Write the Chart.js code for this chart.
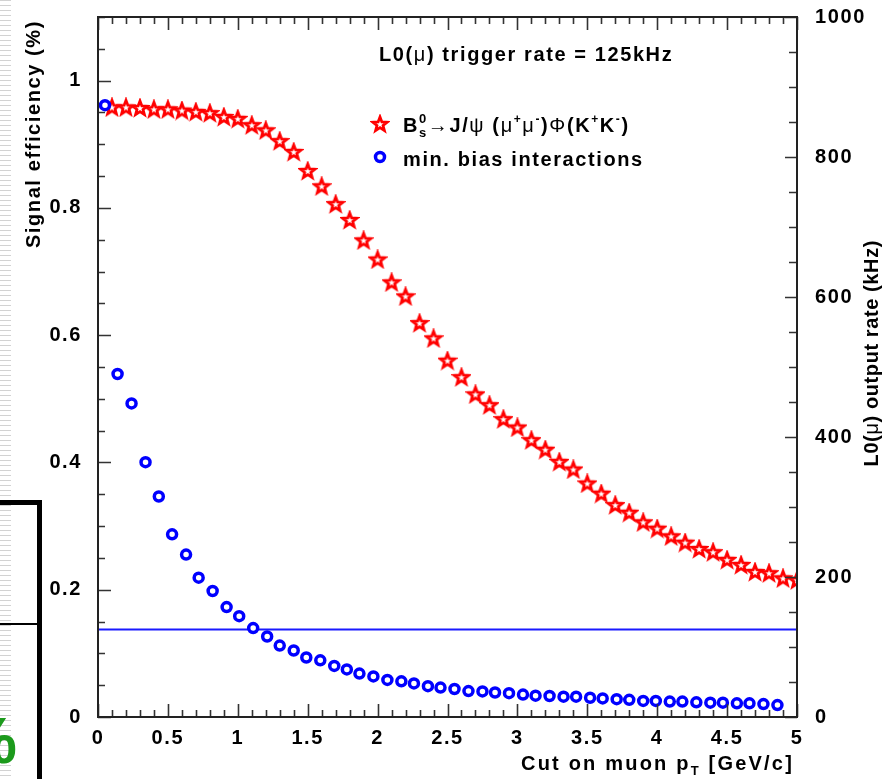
<!DOCTYPE html>
<html>
<head>
<meta charset="utf-8">
<script src="https://cdn.jsdelivr.net/npm/chart.js@4.4.0/dist/chart.umd.min.js"></script>
<style>
  body { margin: 0; background: #fff; }
  #wrap { position: relative; width: 893px; height: 779px; overflow: hidden; background: #fff; }
  #chart { position: absolute; left: 0; top: 0; }
  .stripes { position: absolute; left: 0; top: 0; width: 11px; height: 779px;
    background: repeating-linear-gradient(to bottom, #d2d2d2 0px, #d2d2d2 1px, #fff 1px, #fff 5px); }
  .blk { position: absolute; background: #000; }
  .pct { position: absolute; left: -40px; top: 704px; color: #1c9a1c;
    font: bold 64px 'Liberation Sans', Arial, sans-serif; }
</style>
</head>
<body>
<div id="wrap">
  <div class="stripes"></div>
  <div class="blk" style="left:0;top:500px;width:42px;height:5px"></div>
  <div class="blk" style="left:37px;top:500px;width:5px;height:279px"></div>
  <div class="blk" style="left:0;top:623px;width:37px;height:2px"></div>
  <div class="pct">%</div>
  <canvas id="chart" width="893" height="779"></canvas>
</div>
<script>
// signal: Bs -> J/psi phi efficiency vs pT cut (left axis)
const starX = [0.1, 0.2, 0.3, 0.4, 0.5, 0.6, 0.7, 0.8, 0.9, 1.0,
  1.1, 1.2, 1.3, 1.4, 1.5, 1.6, 1.7, 1.8, 1.9, 2.0,
  2.1, 2.2, 2.3, 2.4, 2.5, 2.6, 2.7, 2.8, 2.9, 3.0,
  3.1, 3.2, 3.3, 3.4, 3.5, 3.6, 3.7, 3.8, 3.9, 4.0,
  4.1, 4.2, 4.3, 4.4, 4.5, 4.6, 4.7, 4.8, 4.9, 5.0];
const starEff = [0.958, 0.958, 0.957, 0.955, 0.955, 0.953, 0.951, 0.949, 0.943, 0.940,
  0.930, 0.922, 0.905, 0.888, 0.858, 0.834, 0.806, 0.781, 0.749, 0.719,
  0.683, 0.661, 0.619, 0.595, 0.560, 0.534, 0.507, 0.490, 0.468, 0.455,
  0.435, 0.420, 0.401, 0.389, 0.367, 0.351, 0.333, 0.321, 0.306, 0.296,
  0.284, 0.274, 0.264, 0.259, 0.247, 0.239, 0.228, 0.226, 0.218, 0.215];

// min. bias output rate in kHz (right axis)
const circleX = [0.05, 0.14, 0.24, 0.34, 0.435, 0.53, 0.63, 0.72, 0.82, 0.92,
  1.01, 1.11, 1.21, 1.30, 1.40, 1.49, 1.59, 1.69, 1.78, 1.87,
  1.97, 2.07, 2.17, 2.26, 2.36, 2.45, 2.55, 2.65, 2.75, 2.84,
  2.94, 3.04, 3.13, 3.23, 3.33, 3.42, 3.52, 3.61, 3.71, 3.80,
  3.90, 3.99, 4.09, 4.18, 4.28, 4.38, 4.47, 4.57, 4.66, 4.76, 4.86];
const circleRate = [874, 490, 448, 364, 315, 261, 232, 199, 180, 157,
  144, 127, 115, 102, 95, 85, 81, 73, 68, 62,
  58, 53, 51, 48, 44, 42, 40, 37, 36.5, 35,
  34, 32, 30.5, 30, 29, 29, 27.5, 26.5, 25.5, 24.5,
  23, 23, 22, 22, 21, 20.5, 20.5, 19.5, 19.5, 18.5, 17];

const triggerRate = 125;
const xTicks = [0, 0.5, 1, 1.5, 2, 2.5, 3, 3.5, 4, 4.5, 5];
const effTicks = [0, 0.2, 0.4, 0.6, 0.8, 1];
const rateTicks = [0, 200, 400, 600, 800, 1000];

const FONT = "'Liberation Sans', Arial, Helvetica, sans-serif";
const SPACING = "1.6px";
const bold = s => "bold " + s + "px " + FONT;
const reg = s => s + "px " + FONT;

// open red star marker
function makeStar() {
  const c = document.createElement("canvas");
  c.width = 20; c.height = 20;
  const g = c.getContext("2d");
  g.beginPath();
  for (let i = 0; i < 10; i++) {
    const r = i % 2 === 0 ? 7.5 : 3.2;
    const a = -Math.PI / 2 + i * Math.PI / 5;
    const px = 10 + r * Math.cos(a), py = 10.5 + r * Math.sin(a);
    if (i === 0) g.moveTo(px, py); else g.lineTo(px, py);
  }
  g.closePath();
  g.fillStyle = "#fff";
  g.fill();
  g.lineWidth = 2.8;
  g.lineJoin = "miter";
  g.strokeStyle = "#ff0000";
  g.stroke();
  return c;
}
const starImg = makeStar();

// draw text made of runs: [text, font, dy, advance?]
function drawRuns(ctx, runs, x, y) {
  let cx = x;
  runs.forEach(r => {
    ctx.font = r[1];
    ctx.fillText(r[0], cx, y + (r[2] || 0));
    if (r[3] !== false) cx += ctx.measureText(r[0]).width;
  });
  return cx - x;
}
function runsWidth(ctx, runs) {
  let w = 0;
  runs.forEach(r => { ctx.font = r[1]; if (r[3] !== false) w += ctx.measureText(r[0]).width; });
  return w;
}

const framePlugin = {
  id: "frame",
  beforeDraw(chart) {
    chart.ctx.letterSpacing = SPACING;
  },
  afterDatasetsDraw(chart) {
    const ctx = chart.ctx;
    const a = chart.chartArea;
    const xs = chart.scales.x, yl = chart.scales.yL, yr = chart.scales.yR;
    ctx.save();
    ctx.strokeStyle = "#333";
    ctx.lineWidth = 1.6;
    ctx.beginPath();
    for (let i = 0; i <= 50; i++) {
      const px = Math.round(xs.getPixelForValue(i / 10)) + 0.5;
      const len = i % 5 === 0 ? 13 : 7;
      ctx.moveTo(px, a.bottom); ctx.lineTo(px, a.bottom - len);
      ctx.moveTo(px, a.top); ctx.lineTo(px, a.top + len);
    }
    for (let i = 0; i <= 22; i++) {
      const py = Math.round(yl.getPixelForValue(i * 0.05)) + 0.5;
      const len = i % 4 === 0 ? 13 : 7;
      ctx.moveTo(a.left, py); ctx.lineTo(a.left + len, py);
    }
    for (let i = 0; i <= 20; i++) {
      const py = Math.round(yr.getPixelForValue(i * 50)) + 0.5;
      const len = i % 4 === 0 ? 12 : 8;
      ctx.moveTo(a.right, py); ctx.lineTo(a.right - len, py);
    }
    ctx.stroke();
    ctx.lineWidth = 2;
    ctx.strokeStyle = "#222";
    ctx.strokeRect(a.left, a.top, a.right - a.left, a.bottom - a.top);
    ctx.restore();
  },
  afterDraw(chart) {
    const ctx = chart.ctx;
    ctx.save();
    ctx.letterSpacing = SPACING;
    ctx.fillStyle = "#000";
    ctx.textBaseline = "alphabetic";
    ctx.textAlign = "left";

    // header
    drawRuns(ctx, [["L0(", bold(20)], ["\u03bc", reg(20)], [") trigger rate = 125kHz", bold(20)]], 379, 61);

    // legend markers
    ctx.drawImage(starImg, 370, 114);
    ctx.beginPath();
    ctx.arc(380, 157, 4.5, 0, Math.PI * 2);
    ctx.fillStyle = "#fff";
    ctx.fill();
    ctx.lineWidth = 3.5;
    ctx.strokeStyle = "#0000ff";
    ctx.stroke();

    // legend text
    ctx.fillStyle = "#000";
    drawRuns(ctx, [
      ["B", bold(20)],
      ["0", bold(13), -9, false],
      ["s", bold(13), 5],
      ["\u2192", reg(20)],
      ["J/", bold(20)],
      ["\u03c8", reg(20)],
      [" (", bold(20)],
      ["\u03bc", reg(20)],
      ["+", bold(12), -9],
      ["\u03bc", reg(20)],
      ["-", bold(12), -9],
      [")", bold(20)],
      ["\u03a6", reg(20)],
      ["(K", bold(20)],
      ["+", bold(12), -9],
      ["K", bold(20)],
      ["-", bold(12), -9],
      [")", bold(20)]
    ], 403, 132);
    drawRuns(ctx, [["min. bias interactions", bold(20)]], 403, 166);

    // x title, right aligned
    ctx.letterSpacing = "2.2px";
    const xt = [["Cut on muon p", bold(20)], ["T", bold(13), 5], [" [GeV/c]", bold(20)]];
    drawRuns(ctx, xt, 794 - runsWidth(ctx, xt), 770);

    // left title
    ctx.letterSpacing = SPACING;
    ctx.save();
    ctx.translate(40, 20);
    ctx.rotate(-Math.PI / 2);
    const lt = [["Signal efficiency (%)", bold(20)]];
    drawRuns(ctx, lt, -runsWidth(ctx, lt), 0);
    ctx.restore();

    // right title
    ctx.letterSpacing = "0.6px";
    ctx.save();
    ctx.translate(878, 240);
    ctx.rotate(-Math.PI / 2);
    const rt = [["L0(", bold(20)], ["\u03bc", reg(20)], [") output rate (kHz)", bold(20)]];
    drawRuns(ctx, rt, -runsWidth(ctx, rt), 0);
    ctx.restore();

    ctx.restore();
  }
};

const tickFont = { family: FONT, size: 20, weight: "bold" };
const plain = v => String(v);
const noPad = s => { s.paddingTop = 0; s.paddingBottom = 0; };

new Chart(document.getElementById("chart"), {
  type: "scatter",
  data: {
    datasets: [
      {
        label: "min. bias interactions",
        data: circleX.map((x, i) => ({ x: x, y: circleRate[i] })),
        yAxisID: "yR",
        pointStyle: "circle",
        pointRadius: 4.5,
        pointBorderWidth: 3.5,
        pointBorderColor: "#0000ff",
        pointBackgroundColor: "#ffffff"
      },
      {
        label: "Bs -> J/psi phi",
        data: starX.map((x, i) => ({ x: x, y: starEff[i] })),
        yAxisID: "yL",
        pointStyle: starImg,
        clip: 0
      },
      {
        label: "trigger rate",
        data: [{ x: 0, y: triggerRate }, { x: 5, y: triggerRate }],
        yAxisID: "yR",
        showLine: true,
        borderColor: "#1a1aff",
        borderWidth: 2,
        pointRadius: 0
      }
    ]
  },
  options: {
    responsive: false,
    animation: false,
    events: [],
    layout: { autoPadding: false, padding: { top: 17, left: 0, right: 0, bottom: 0 } },
    plugins: { legend: { display: false }, tooltip: { enabled: false } },
    scales: {
      x: {
        type: "linear",
        min: 0, max: 5,
        grid: { display: false, drawTicks: false },
        border: { display: false },
        ticks: { font: tickFont, color: "#000", padding: 9, maxRotation: 0, autoSkip: false, callback: plain },
        afterBuildTicks: s => { s.ticks = xTicks.map(v => ({ value: v })); },
        afterFit: s => { s.height = 62; s.paddingLeft = 0; s.paddingRight = 0; }
      },
      yL: {
        type: "linear",
        position: "left",
        min: 0, max: 1.1,
        grid: { display: false, drawTicks: false },
        border: { display: false },
        ticks: { font: tickFont, color: "#000", padding: 16, callback: plain },
        afterBuildTicks: s => { s.ticks = effTicks.map(v => ({ value: v })); },
        afterFit: s => { s.width = 98; noPad(s); }
      },
      yR: {
        type: "linear",
        position: "right",
        min: 0, max: 1000,
        grid: { display: false, drawTicks: false },
        border: { display: false },
        ticks: { font: tickFont, color: "#000", padding: 18, callback: plain },
        afterBuildTicks: s => { s.ticks = rateTicks.map(v => ({ value: v })); },
        afterFit: s => { s.width = 96; noPad(s); }
      }
    }
  },
  plugins: [framePlugin]
});
</script>
</body>
</html>
